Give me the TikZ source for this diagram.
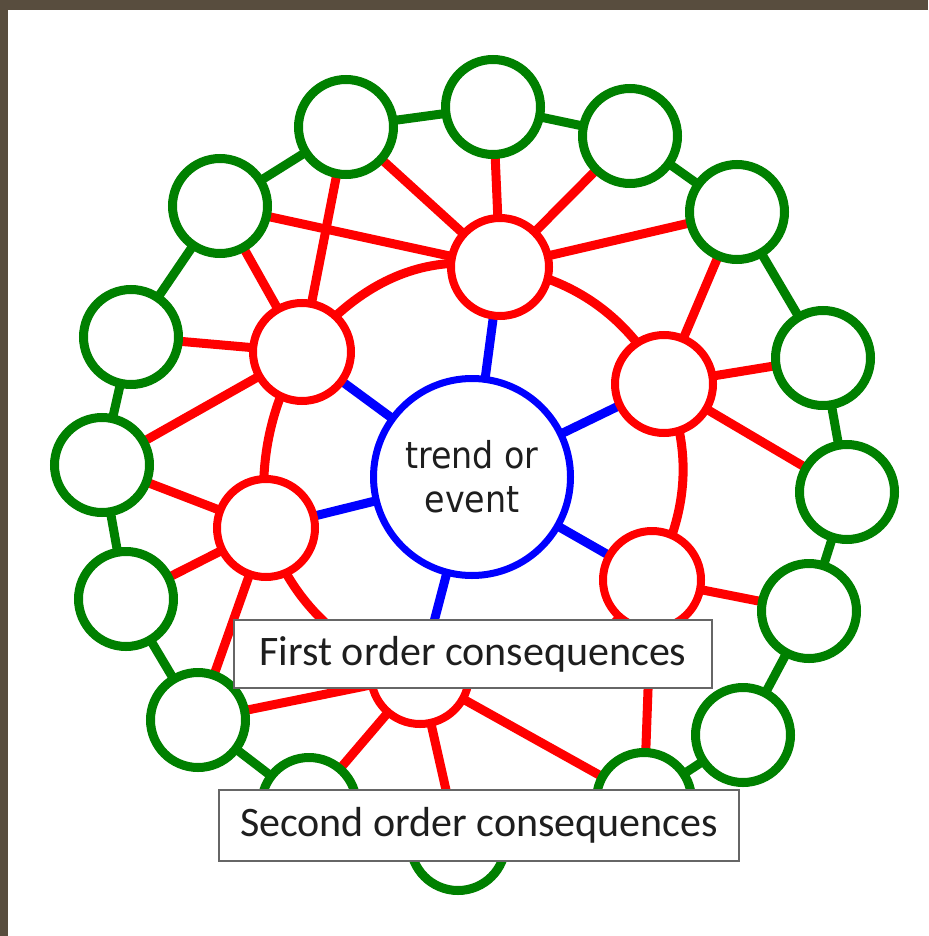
\documentclass[tikz,border=0pt]{standalone}
\usepackage{fontspec}
\newfontfamily\boxfont{Carlito}
\newfontfamily\centerfont{DejaVu Sans}[FakeStretch=0.9]
\usetikzlibrary{backgrounds}
\definecolor{grn}{RGB}{0,128,0}
\definecolor{rd}{RGB}{255,0,0}
\definecolor{bl}{RGB}{0,0,255}
\definecolor{frame}{RGB}{88,77,62}
\definecolor{txt}{RGB}{30,30,30}
\tikzset{
  gnode/.style={circle, draw=grn, line width=9pt, fill=white, minimum size=95pt, inner sep=0pt},
  rnode/.style={circle, draw=rd, line width=8pt, fill=white, minimum size=98pt, inner sep=0pt},
  cnode/.style={circle, draw=bl, line width=7pt, fill=white, minimum size=197pt, inner sep=0pt,
                align=center, text=txt, font=\centerfont\fontsize{37}{44}\selectfont},
  gline/.style={draw=grn, line width=9pt},
  rline/.style={draw=rd, line width=9pt},
  bline/.style={draw=bl, line width=9pt},
  labelbox/.style={draw=black!60, line width=1.2pt, fill=white, inner sep=0pt, text=txt,
                   font=\boxfont\fontsize{42}{48}\selectfont}
}
\begin{document}
\begin{tikzpicture}[x=1pt,y=-1pt]
\useasboundingbox (0,0) rectangle (928,936);
\begin{scope}[on background layer]
  \fill[frame] (0,0) rectangle (928,936);
  \fill[white] (8,10) rectangle (928,936);
\end{scope}
% center
\node[cnode] (C) at (472,477) {trend or\\event};
% first order
\node[rnode] (R1) at (500,267) {};
\node[rnode] (R2) at (302,352) {};
\node[rnode] (R3) at (664,384) {};
\node[rnode] (R4) at (266,528) {};
\node[rnode] (R5) at (652,580) {};
\node[rnode] (R6) at (420,675) {};
% second order
\node[gnode] (G1) at (493,107) {};
\node[gnode] (G2) at (346,127) {};
\node[gnode] (G3) at (630,136) {};
\node[gnode] (G4) at (220,206) {};
\node[gnode] (G5) at (737,212) {};
\node[gnode] (G6) at (131,337) {};
\node[gnode] (G7) at (823,358) {};
\node[gnode] (G8) at (102,465) {};
\node[gnode] (G9) at (847,492) {};
\node[gnode] (G10) at (126,599) {};
\node[gnode] (G11) at (809,611) {};
\node[gnode] (G12) at (198,720) {};
\node[gnode] (G13) at (743,735) {};
\node[gnode] (G14) at (309,805) {};
\node[gnode] (G15) at (644,800) {};
\node[gnode] (G16) at (458,843) {};
\begin{scope}[on background layer]
  % green ring
  \draw[gline] (G1.center) -- (G2.center) -- (G4.center) -- (G6.center) -- (G8.center)
     -- (G10.center) -- (G12.center) -- (G14.center) -- (G16.center) -- (G15.center)
     -- (G13.center) -- (G11.center) -- (G9.center) -- (G7.center) -- (G5.center)
     -- (G3.center) -- (G1.center);
  % blue spokes
  \foreach \r in {R1,R2,R3,R4,R5,R6} \draw[bline] (C.center) -- (\r.center);
  % red arcs between first-order nodes
  \draw[rline] (R2.center) .. controls (360,280) and (426,252) .. (R1.center);
  \draw[rline] (R1.center) .. controls (575,278) and (629,318) .. (R3.center);
  \draw[rline] (R3.center) .. controls (693,449) and (689,513) .. (R5.center);
  \draw[rline] (R2.center) .. controls (270,406) and (258,464) .. (R4.center);
  \draw[rline] (R4.center) .. controls (291,603) and (343,652) .. (R6.center);
  \draw[rline] (R6.center) .. controls (513,695) and (591,663) .. (R5.center);
  % red links to second order
  \foreach \g in {G1,G2,G3,G4,G5} \draw[rline] (R1.center) -- (\g.center);
  \foreach \g in {G2,G4,G6,G8} \draw[rline] (R2.center) -- (\g.center);
  \foreach \g in {G5,G7,G9} \draw[rline] (R3.center) -- (\g.center);
  \foreach \g in {G8,G10,G12} \draw[rline] (R4.center) -- (\g.center);
  \foreach \g in {G11,G15} \draw[rline] (R5.center) -- (\g.center);
  \foreach \g in {G12,G14,G16,G15} \draw[rline] (R6.center) -- (\g.center);
\end{scope}
% labels
\node[labelbox, minimum width=478pt, minimum height=68pt] (L1) at (473,654) {First order consequences};
\node[labelbox, minimum width=520pt, minimum height=71pt] (L2) at (479,825.5) {Second order consequences};
\end{tikzpicture}
\end{document}
